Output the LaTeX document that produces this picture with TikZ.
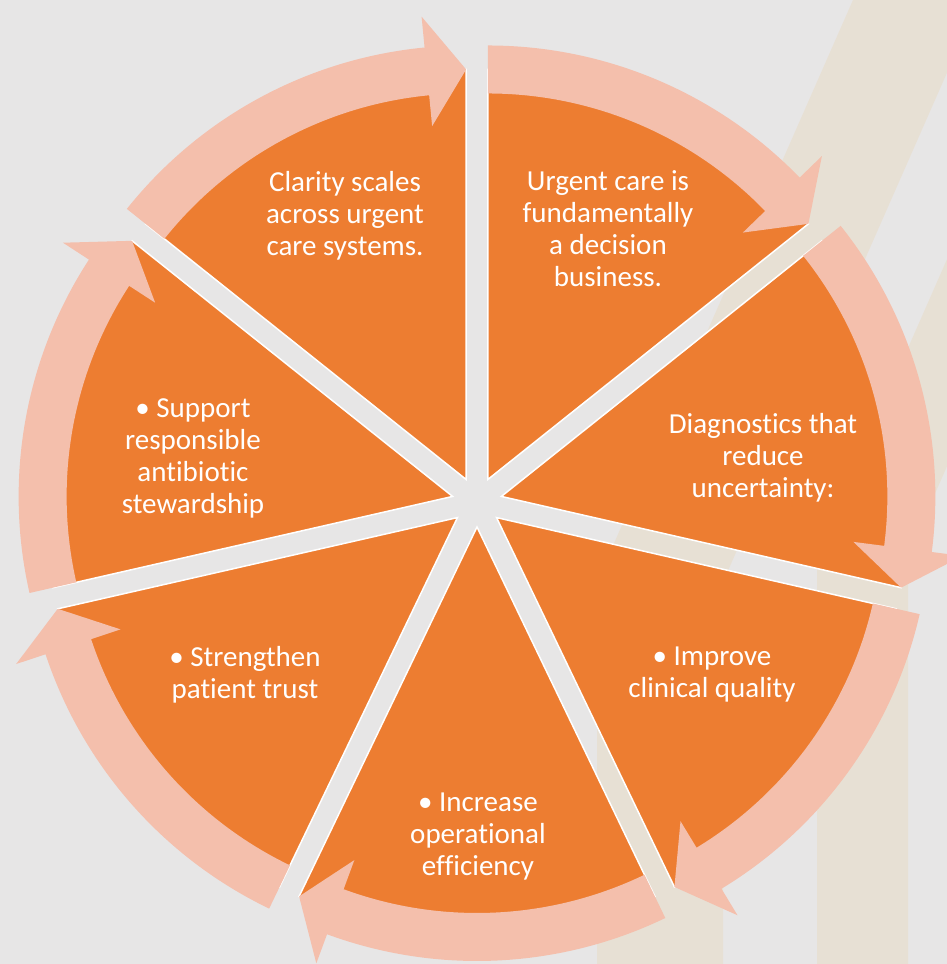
\documentclass[tikz,border=0pt]{standalone}
\usepackage{fontspec}
\setmainfont{Carlito}[Ligatures={NoCommon}]
\usepackage{tikz}
\usetikzlibrary{positioning}
\definecolor{segorange}{HTML}{ED7D31}
\definecolor{arrowpink}{HTML}{F4BFAC}
\definecolor{slidegray}{HTML}{E7E6E6}
\definecolor{bandbeige}{HTML}{E7E0D4}

\begin{document}
\begin{tikzpicture}[x=1pt,y=1pt,
    pieseg/.style={fill=segorange, draw=white, line width=1.5pt},
    cyclearrow/.style={fill=arrowpink},
    segtext/.style={text=white, align=center, font=\fontsize{29}{32}\selectfont}]
    \useasboundingbox (-477,-462) rectangle (470,502);
    \clip (-477,-462) rectangle (470,502);
    \fill[slidegray] (-477,-462) rectangle (470,502);
    % faint bands of the slide behind the cycle
    \fill[bandbeige] (376,502) -- (502,502) -- (246,-80) -- (246,-462) -- (120,-462) -- (120,-80) -- cycle;
    \fill[bandbeige] (584,502) -- (675,502) -- (431,-53) -- (431,-462) -- (340,-462) -- (340,-53) -- cycle;
    % seven exploded segments, each with its own arrow
    \foreach \k in {0,...,6}{
        \pgfmathsetmacro\bis{64.2857-51.4286*\k}
        \pgfmathsetmacro\ccw{\bis+25.7143}
        \pgfmathsetmacro\cw{\bis-25.7143}
        \pgfmathsetmacro\hb{\cw+5.5}
        \begin{scope}[shift={(\bis:25)}]
            \path[pieseg] (0,0) -- (\ccw:410) arc[start angle=\ccw, end angle=\cw, radius=410] -- cycle;
            \fill[cyclearrow] (\ccw:386) arc[start angle=\ccw, end angle=\hb, radius=386]
                -- (\hb:355) -- (\cw:410) -- (\hb:465) -- (\hb:434)
                arc[start angle=\hb, end angle=\ccw, radius=434] -- cycle;
        \end{scope}
    }
    \node[segtext] (clarity) at (-132,286) {Clarity scales\\across urgent\\care systems.};
    \node[segtext] (urgent) at (131,273) {Urgent care is\\fundamentally\\a decision\\business.};
    \node[segtext] (diagnostics) at (286,44) {Diagnostics that\\reduce\\uncertainty:};
    \node[segtext] (quality) at (235,-173) {• Improve\\clinical quality};
    \node[segtext] (efficiency) at (1,-335) {• Increase\\operational\\efficiency};
    \node[segtext] (trust) at (-232,-173) {• Strengthen\\patient trust};
    \node[segtext] (stewardship) at (-284,44) {• Support\\responsible\\antibiotic\\stewardship};
\end{tikzpicture}
\end{document}
